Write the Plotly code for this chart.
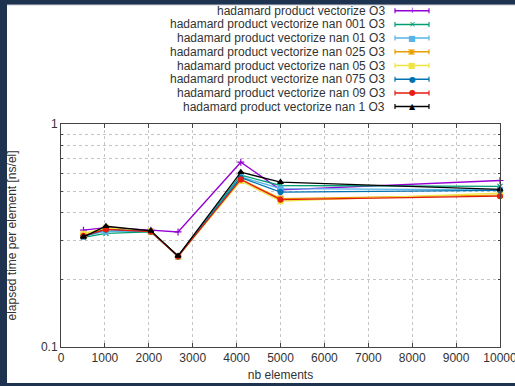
import plotly.graph_objects as go

# ---- data ----
x_vals = [512, 1024, 2048, 2666, 4096, 5000, 10000]
series_names = [
    "hadamard product vectorize O3",
    "hadamard product vectorize nan 001 O3",
    "hadamard product vectorize nan 01 O3",
    "hadamard product vectorize nan 025 O3",
    "hadamard product vectorize nan 05 O3",
    "hadamard product vectorize nan 075 O3",
    "hadamard product vectorize nan 09 O3",
    "hadamard product vectorize nan 1 O3",
]
y_vec = [0.334, 0.343, 0.334, 0.328, 0.674, 0.507, 0.558]
y_nan001 = [0.310, 0.323, 0.328, 0.256, 0.590, 0.530, 0.525]
y_nan01 = [0.314, 0.330, 0.330, 0.254, 0.580, 0.513, 0.506]
y_nan025 = [0.316, 0.340, 0.330, 0.255, 0.565, 0.463, 0.480]
y_nan05 = [0.322, 0.342, 0.331, 0.255, 0.555, 0.451, 0.490]
y_nan075 = [0.313, 0.336, 0.330, 0.255, 0.575, 0.495, 0.504]
y_nan09 = [0.315, 0.337, 0.329, 0.255, 0.564, 0.458, 0.475]
y_nan1 = [0.312, 0.348, 0.332, 0.256, 0.608, 0.549, 0.509]
series_values = [y_vec, y_nan001, y_nan01, y_nan025, y_nan05, y_nan075, y_nan09, y_nan1]

x_tick_vals = [0, 1000, 2000, 3000, 4000, 5000, 6000, 7000, 8000, 9000, 10000]
x_tick_text = ["0", "1000", "2000", "3000", "4000", "5000", "6000", "7000", "8000", "9000", "10000"]
y_tick_vals = [0.1, 1]
y_tick_text = ["0.1", "1"]
y_minor_vals = [0.2, 0.3, 0.4, 0.5, 0.6, 0.7, 0.8, 0.9]

# ---- styles ----
colors = ["#9400d3", "#009e73", "#56b4e9", "#e69f00", "#f0e442", "#0072b2", "#e51e10", "#000000"]
symbols = ["cross-thin", "x-thin", "square", "square-open", "square", "circle", "circle", "triangle-up"]
legend_glyphs = ["+", "×", "■", "▣", "■", "●", "●", "▲"]

W, H = 515, 386
L, R, T, B = 61, 15, 124, 39
pw, ph = W - L - R, H - T - B
FONT = "Liberation Sans, Arial, sans-serif"
TXT = "#333333"
FRAME = "#1e3350"
GRID = "#c4c4c4"


def px_x(p):
    return (p - L) / pw


def px_y(p):
    return (H - B - p) / ph


fig = go.Figure()
for name, ys, c, s in zip(series_names, series_values, colors, symbols):
    fig.add_trace(go.Scatter(
        x=x_vals, y=ys, name=name, mode="lines+markers",
        line=dict(color=c, width=1.3),
        marker=dict(color=c, symbol=s, size=5, line=dict(color=c, width=1.2)),
        showlegend=False, cliponaxis=False,
    ))

shapes = []
# white page area over a dark frame
shapes.append(dict(type="rect", xref="paper", yref="paper", layer="below",
                   x0=px_x(7), x1=px_x(W + 5), y0=px_y(383), y1=px_y(5),
                   fillcolor="white", line=dict(width=0)))
shapes.append(dict(type="line", xref="paper", yref="paper", layer="below",
                   x0=px_x(7), x1=px_x(W + 5), y0=px_y(5), y1=px_y(5),
                   line=dict(color="#c8ccd2", width=1)))

annotations = []
row0, step = 10.7, 13.7
for i, (name, c, g) in enumerate(zip(series_names, colors, legend_glyphs)):
    yy = row0 + i * step
    annotations.append(dict(xref="paper", yref="paper", x=px_x(387), y=px_y(yy),
                            xanchor="right", yanchor="middle", text=name, showarrow=False,
                            font=dict(family=FONT, size=12, color=TXT)))
    shapes.append(dict(type="line", xref="paper", yref="paper",
                       x0=px_x(395), x1=px_x(429), y0=px_y(yy), y1=px_y(yy),
                       line=dict(color=c, width=1.5)))
    for xe in (395, 429):
        shapes.append(dict(type="line", xref="paper", yref="paper",
                           x0=px_x(xe), x1=px_x(xe), y0=px_y(yy - 2.5), y1=px_y(yy + 2.5),
                           line=dict(color=c, width=1.2)))
    annotations.append(dict(xref="paper", yref="paper", x=px_x(412), y=px_y(yy),
                            xanchor="center", yanchor="middle", text=g, showarrow=False,
                            font=dict(family="DejaVu Sans", size=8, color=c)))

fig.update_layout(
    width=W, height=H,
    margin=dict(l=L, r=R, t=T, b=B, pad=0),
    paper_bgcolor=FRAME,
    plot_bgcolor="white",
    font=dict(family=FONT, size=12, color=TXT),
    shapes=shapes,
    annotations=annotations,
    xaxis=dict(
        range=[0, 10000], tickvals=x_tick_vals, ticktext=x_tick_text, automargin=False,
        ticklabeloverflow="allow",
        ticks="inside", ticklen=4,
        tickcolor="#444", showline=True, linecolor="#444", linewidth=1, mirror="allticks",
        showgrid=True, gridcolor=GRID, griddash="dot", gridwidth=1, zeroline=False,
        tickfont=dict(family=FONT, size=12, color=TXT),
        title=dict(text="nb elements", font=dict(family=FONT, size=12, color=TXT), standoff=6),
    ),
    yaxis=dict(
        type="log", range=[-1, 0], tickvals=y_tick_vals, ticktext=y_tick_text, automargin=False,
        ticks="inside", ticklen=4, tickcolor="#444",
        showline=True, linecolor="#444", linewidth=1, mirror="allticks",
        showgrid=True, gridcolor=GRID, griddash="dot", zeroline=False,
        minor=dict(tickvals=y_minor_vals, ticks="inside", ticklen=2, tickcolor="#444",
                   showgrid=True, gridcolor=GRID, griddash="dot"),
        tickfont=dict(family=FONT, size=12, color=TXT),
        title=dict(text="elapsed time per element [ns/el]", font=dict(family=FONT, size=12, color=TXT), standoff=21),
    ),
)

fig.write_html(
    "out.html",
    config={"displayModeBar": False},
    post_script="document.body.style.margin='0';document.body.style.background='" + FRAME + "';"
                "document.body.style.overflow='hidden';",
)
